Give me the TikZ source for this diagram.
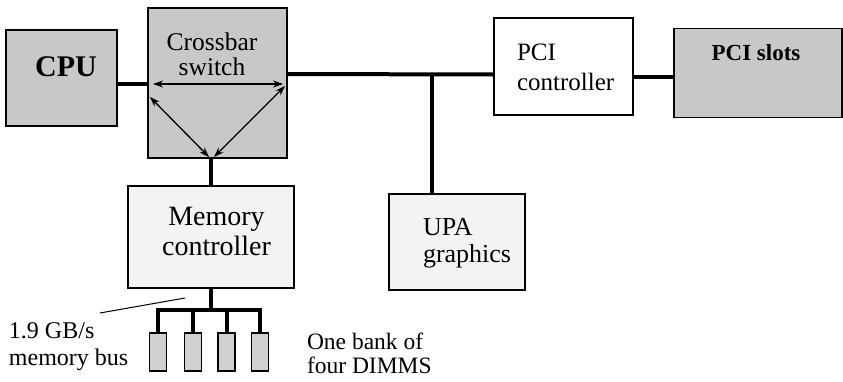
\documentclass[tikz,border=0pt]{standalone}
\usepackage{fontspec}
\setmainfont{Liberation Serif}
\usetikzlibrary{arrows.meta}
\definecolor{boxgray}{HTML}{C8C8C8}
\definecolor{lightbox}{HTML}{F3F3F3}
\definecolor{dimmgray}{HTML}{D0D0D0}
\tikzset{
  x=1pt, y=-1pt,
  blk/.style={draw=black, line width=1.5pt, inner sep=0pt, outer sep=0pt},
  bus/.style={line width=4pt},
  thinline/.style={line width=1.3pt},
  dbl/.style={line width=1.3pt, {Stealth[length=10pt,width=7pt]}-{Stealth[length=10pt,width=7pt]}},
  txt/.style={inner sep=0pt, outer sep=0pt},
}
\begin{document}
\begin{tikzpicture}
\useasboundingbox (0,0) rectangle (843,381);
% boxes
\node[blk, fill=boxgray, minimum width=111pt, minimum height=96pt] (cpu) at (61.5,78) {};
\node[blk, fill=boxgray, minimum width=139pt, minimum height=150pt] (xbar) at (217.5,83) {};
\node[blk, fill=lightbox, minimum width=166pt, minimum height=102pt] (mem) at (211,237) {};
\node[blk, fill=lightbox, minimum width=136pt, minimum height=96pt] (upa) at (457,242) {};
\node[blk, fill=white, minimum width=139pt, minimum height=97pt] (pcic) at (563.5,66.5) {};
\node[blk, fill=boxgray, minimum width=168pt, minimum height=89pt] (slots) at (758,73) {};
% DIMMs
\foreach \n/\cx in {d1/158, d2/193, d3/226.5, d4/260}{
  \node[blk, line width=1.2pt, fill=dimmgray, minimum width=17pt, minimum height=38pt] (\n) at (\cx,352) {};
}
% texts
\node[txt, anchor=base, font=\fontsize{30}{32}\selectfont\bfseries] (tcpu) at (66,76) {CPU};
\node[txt, anchor=base, font=\fontsize{25.5}{28}\selectfont] (txa) at (212,50) {Crossbar};
\node[txt, anchor=base, font=\fontsize{25.5}{28}\selectfont] (txb) at (212,75) {switch};
\node[txt, anchor=base, font=\fontsize{28}{30}\selectfont] (tma) at (216.5,225) {Memory};
\node[txt, anchor=base, font=\fontsize{28}{30}\selectfont] (tmb) at (216.5,255) {controller};
\node[txt, anchor=base west, font=\fontsize{26}{28}\selectfont] (tua) at (423,235) {UPA};
\node[txt, anchor=base west, font=\fontsize{26}{28}\selectfont] (tub) at (423,262) {graphics};
\node[txt, anchor=base west, font=\fontsize{25}{28}\selectfont] (tpa) at (517,60) {PCI};
\node[txt, anchor=base west, font=\fontsize{25}{28}\selectfont] (tpb) at (517,90) {controller};
\node[txt, anchor=base, font=\fontsize{23}{26}\selectfont\bfseries] (tsl) at (756,60) {PCI slots};
\node[txt, anchor=base west, font=\fontsize{24}{26}\selectfont] (tga) at (9,338) {1.9 GB/s};
\node[txt, anchor=base west, font=\fontsize{24}{26}\selectfont] (tgb) at (9,365) {memory bus};
\node[txt, anchor=base west, font=\fontsize{23.5}{26}\selectfont] (toa) at (307,349) {One bank of};
\node[txt, anchor=base west, font=\fontsize{23.5}{26}\selectfont] (tob) at (307,373) {four DIMMS};
% buses
\draw[bus] ([yshift=-6pt]cpu.east) -- ([yshift=-1pt]xbar.west);
\draw[bus] ([yshift=9pt]xbar.east) -- ([yshift=-8pt]pcic.west);
\coordinate (tap) at (432,75);
\draw[bus] (tap) -- (tap |- upa.north);
\draw[bus] ([yshift=-10pt]pcic.east) -- ([yshift=-3.5pt]slots.west);
\draw[bus] (mem.north) -- (mem.north |- xbar.south);
\coordinate (hub) at (211,310);
\draw[bus] (mem.south) -- (hub);
\draw[bus] (d1.north) -- (d1.north |- hub) -- (d4.north |- hub) -- (d4.north);
\draw[bus] (d2.north) -- (d2.north |- hub);
\draw[bus] (d3.north) -- (d3.north |- hub);
% crossbar arrows
\coordinate (xl) at (153,84);
\coordinate (xr) at (283,84);
\coordinate (xul) at (150,97);
\coordinate (xbl) at (209,157);
\coordinate (xur) at (285,86);
\coordinate (xbr) at (214,157);
\draw[dbl] (xl) -- (xr);
\draw[dbl] (xul) -- (xbl);
\draw[dbl] (xur) -- (xbr);
% leader
\coordinate (lda) at (100,313);
\coordinate (ldb) at (185,298);
\draw[line width=1pt] (lda) -- (ldb);
\end{tikzpicture}
\end{document}
